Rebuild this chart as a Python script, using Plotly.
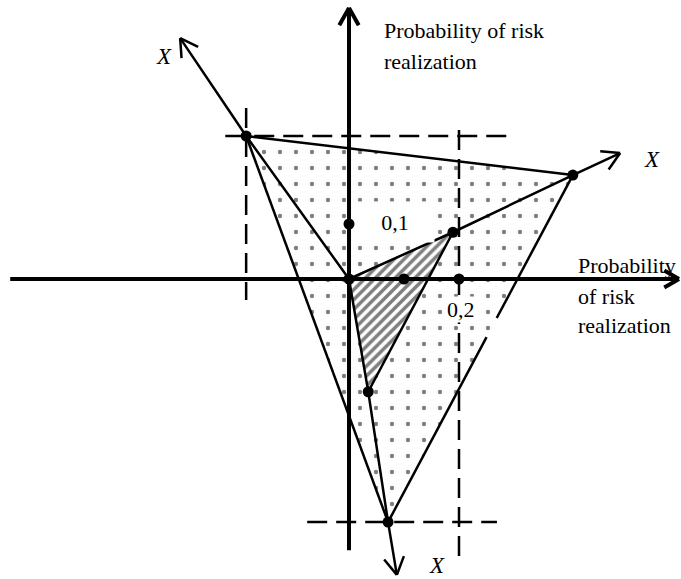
import numpy as np
import plotly.graph_objects as go

# scale of the drawing: pixels per probability unit (same on both axes)
S = 550

# key points, in probability units, origin where the two axes cross
pt_names = ["O", "A", "B", "C", "P1", "P2", "P3", "P4", "P5"]
pt_x = [0.0, -0.187, 0.407, 0.071, 0.0, 0.189, 0.100, 0.200, 0.035]
pt_y = [0.0, 0.260, 0.189, -0.442, 0.100, 0.085, 0.0, 0.0, -0.205]

# ends of the X rays and of the two axes
tip_names = ["X_up", "X_right", "X_down", "axis_y", "axis_x"]
tip_x = [-0.307, 0.493, 0.087, 0.0, 0.600]
tip_y = [0.438, 0.229, -0.538, 0.493, 0.0]
axis_x_start = -0.616
axis_y_start = -0.493

# dashed guide lines: (x0, y0, x1, y1)
guide_x0 = [-0.225, -0.187, 0.200, -0.076]
guide_y0 = [0.260, 0.311, 0.271, -0.442]
guide_x1 = [0.302, -0.187, 0.200, 0.269]
guide_y1 = [0.260, -0.038, -0.516, -0.442]

# break in the B-C edge (fraction along B -> C)
gap_t = [0.412, 0.467]

P = dict(zip(pt_names, zip(pt_x, pt_y)))
T = dict(zip(tip_names, zip(tip_x, tip_y)))


def lerp(p, q, t):
    return (p[0] + (q[0] - p[0]) * t, p[1] + (q[1] - p[1]) * t)


def lines(segs, width, dash="solid"):
    xs, ys = [], []
    for seg in segs:
        for p in seg:
            xs.append(p[0])
            ys.append(p[1])
        xs.append(None)
        ys.append(None)
    return go.Scatter(x=xs, y=ys, mode="lines", hoverinfo="skip",
                      line=dict(color="black", width=width, dash=dash))


def arrow_head(frm, tip, length=20 / S, angle=30):
    d = np.array(tip) - np.array(frm)
    d = d / np.linalg.norm(d)
    out = []
    for a in (angle, -angle):
        r = np.radians(a)
        rot = np.array([d[0] * np.cos(r) - d[1] * np.sin(r),
                        d[0] * np.sin(r) + d[1] * np.cos(r)])
        out.append([tuple(np.array(tip) - length * rot), tip])
    return out


fig = go.Figure()

# dotted big triangle
tri = [P["A"], P["B"], P["C"], P["A"]]
fig.add_trace(go.Scatter(
    x=[p[0] for p in tri], y=[p[1] for p in tri], mode="lines",
    fill="toself", line=dict(width=0), hoverinfo="skip",
    fillpattern=dict(shape=".", size=16, solidity=0.06,
                     fgcolor="black", bgcolor="white")))

# hatched inner triangle
inner = [P["O"], P["P2"], P["P5"], P["O"]]
fig.add_trace(go.Scatter(
    x=[p[0] for p in inner], y=[p[1] for p in inner], mode="lines",
    fill="toself", line=dict(width=0), hoverinfo="skip",
    fillpattern=dict(shape="/", size=7, solidity=0.5,
                     fgcolor="black", bgcolor="white")))

# dashed guides
guides = [[(a, b), (c, d)] for a, b, c, d in zip(guide_x0, guide_y0, guide_x1, guide_y1)]
fig.add_trace(lines(guides, 2.5, dash="20px,9px"))

# solid edges and X rays
edges = [
    [P["A"], P["B"]],
    [P["A"], P["C"]],
    [P["B"], lerp(P["B"], P["C"], gap_t[0])],
    [lerp(P["B"], P["C"], gap_t[1]), P["C"]],
    [P["P2"], P["P5"]],
    [P["O"], P["A"], T["X_up"]],
    [P["O"], P["P2"], P["B"], T["X_right"]],
    [P["O"], P["P5"], P["C"], T["X_down"]],
]
fig.add_trace(lines(edges, 2.5))

heads = (arrow_head(P["A"], T["X_up"]) + arrow_head(P["B"], T["X_right"])
         + arrow_head(P["C"], T["X_down"]))
fig.add_trace(lines(heads, 2.5))

# main axes
axes = [[(axis_x_start, 0), T["axis_x"]], [(0, axis_y_start), T["axis_y"]]]
axes += arrow_head((0, 0), T["axis_y"], angle=29) + arrow_head((0, 0), T["axis_x"], length=17 / S)
fig.add_trace(lines(axes, 4))

# points
fig.add_trace(go.Scatter(x=pt_x, y=pt_y, mode="markers", hoverinfo="skip",
                         marker=dict(color="black", size=11)))

serif = dict(family="Liberation Serif, Times New Roman, serif", size=22, color="black")
xfont = dict(family="Liberation Serif, Times New Roman, serif", size=23, color="black")


def label(x, y, text, font=serif, xanchor="left", **kw):
    fig.add_annotation(x=x, y=y, text=text, showarrow=False, font=font,
                       xanchor=xanchor, yanchor="middle", **kw)


label(0.060, 0.451, "Probability of risk")
label(0.060, 0.396, "realization")
label(0.413, 0.024, "Probability")
label(0.413, -0.031, "of risk")
label(0.413, -0.084, "realization")
label(0.0836, 0.1036, "0,1", xanchor="center", bgcolor="white", width=76, height=38)
label(0.204, -0.056, "0,2", xanchor="center", bgcolor="white", borderpad=0)
label(-0.336, 0.404, "<i>X</i>", font=xfont, xanchor="center")
label(0.551, 0.218, "<i>X</i>", font=xfont, xanchor="center")
label(0.160, -0.520, "<i>X</i>", font=xfont, xanchor="center")

fig.update_layout(
    width=681, height=579,
    margin=dict(l=0, r=0, t=0, b=0, pad=0),
    paper_bgcolor="white", plot_bgcolor="white",
    showlegend=False,
    xaxis=dict(range=[-349 / S, 332 / S], visible=False, fixedrange=True),
    yaxis=dict(range=[-300 / S, 279 / S], visible=False, fixedrange=True),
)

fig.write_html("out.html", config={"displayModeBar": False},
               post_script="document.body.style.margin='0';")
